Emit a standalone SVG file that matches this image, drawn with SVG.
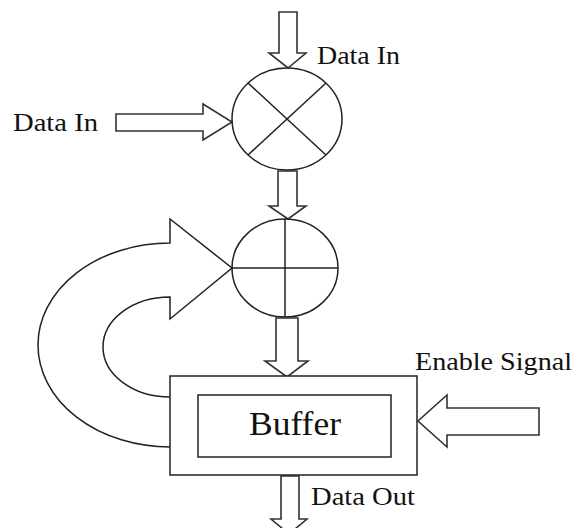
<svg xmlns="http://www.w3.org/2000/svg" width="574" height="528" viewBox="0 0 574 528">
<style>
.ln{fill:none;stroke:#222;stroke-width:1.5;stroke-linejoin:miter}
.ar{fill:#fff;stroke:#333;stroke-width:1.6;stroke-linejoin:miter}
.t{font-family:"Liberation Serif","Times New Roman",serif;fill:#111}
</style>
<rect width="574" height="528" fill="#fff"/>
<g id="connectors">
<polygon class="ar" points="279,12 297,12 297,53 306,53 288,68 269,53 279,53"/>
<polygon class="ar" points="116,114 203,114 203,104 232,122 203,140 203,131 116,131"/>
<polygon class="ar" points="278,171 297,171 297,206 306,206 288,219 269,206 278,206"/>
<polygon class="ar" points="276,318 298,318 298,361 308,361 287,377 265,361 276,361"/>
<polygon class="ar" points="539,408 539,435 447,435 447,447 418,421 447,395 447,408"/>
<polygon class="ar" points="281,476 299,476 299,519 307,519 289,534 271,519 281,519"/>
<path class="ln" d="M170,447 A132,102 0 0 1 170,243 L170,219 L232,268 L170,319 L170,297 A67,50 0 0 0 170,397"/>
</g>
<g id="multiplier">
<ellipse class="ln" cx="287" cy="119" rx="55" ry="51"/>
<line class="ln" x1="248" y1="83" x2="326" y2="155"/>
<line class="ln" x1="326" y1="83" x2="248" y2="155"/>
</g>
<g id="adder">
<ellipse class="ln" cx="285" cy="268" rx="53" ry="49"/>
<line class="ln" x1="285" y1="219" x2="285" y2="317"/>
<line class="ln" x1="232" y1="268" x2="338" y2="268"/>
</g>
<g id="buffer">
<rect class="ln" x="170" y="376" width="247" height="99" style="fill:#fff"/>
<rect class="ln" x="198" y="395" width="193" height="62"/>
<text class="t" x="249" y="435" font-size="33" textLength="92" lengthAdjust="spacingAndGlyphs">Buffer</text>
</g>
<g id="labels">
<text class="t" x="317" y="64" font-size="26" textLength="83" lengthAdjust="spacingAndGlyphs">Data In</text>
<text class="t" x="13" y="131" font-size="26" textLength="85" lengthAdjust="spacingAndGlyphs">Data In</text>
<text class="t" x="415" y="370" font-size="26" textLength="157" lengthAdjust="spacingAndGlyphs">Enable Signal</text>
<text class="t" x="311" y="505" font-size="26" textLength="104" lengthAdjust="spacingAndGlyphs">Data Out</text>
</g>
</svg>
